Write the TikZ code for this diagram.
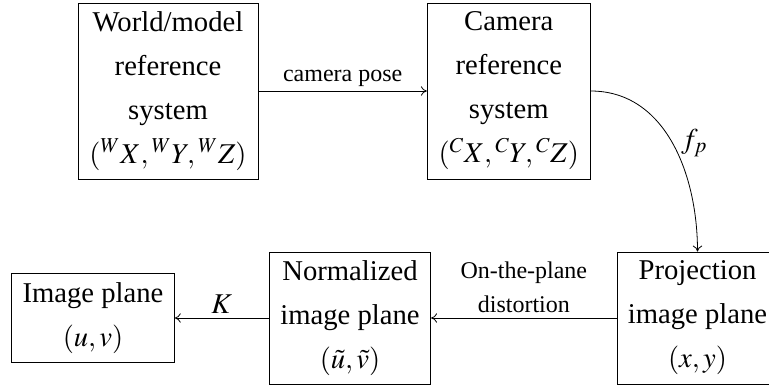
\documentclass[tikz,border=0pt]{standalone}
\usepackage{mathptmx}
\usepackage[no-math]{fontspec}
\setmainfont{Liberation Serif}
\usetikzlibrary{arrows.meta}
\begin{document}
\begin{tikzpicture}[x=0.75pt,y=-0.75pt,
  box/.style={draw, line width=0.6pt, inner sep=0pt, align=center,
    font=\fontsize{21.5}{33}\selectfont},
  lbl/.style={font=\fontsize{18}{25.5}\selectfont},
  mlbl/.style={font=\fontsize{21.5}{33}\selectfont},
  arr/.style={line width=0.6pt, -{To[length=4.5pt,width=7pt]}}]
\useasboundingbox (0,0) rectangle (769,387);
\node[box, minimum width=135pt, minimum height=132pt] (world) at (168,91)
  {World/model\\reference\\system\\$({}^{W}X,{}^{W}Y,{}^{W}Z)$};
\node[box, minimum width=122.25pt, minimum height=132pt] (camera) at (508.8,91)
  {Camera\\reference\\system\\$({}^{C}X,{}^{C}Y,{}^{C}Z)$};
\node[box, minimum width=120.75pt, minimum height=99pt] (proj) at (697.5,318)
  {Projection\\image plane\\$(x,y)$};
\node[box, minimum width=121pt, minimum height=99pt] (norm) at (350,318)
  {Normalized\\image plane\\$(\tilde{u},\tilde{v})$};
\node[box, minimum width=122pt, minimum height=66.3pt] (img) at (93,318)
  {Image plane\\$(u,v)$};
\draw[arr] (world) -- node[above, lbl] {camera pose} (camera);
\draw[arr] (camera.east) to[out=0,in=90] node[right, mlbl, pos=0.5, xshift=3pt] {$f_p$} (proj.north);
\draw[arr] (proj) -- node[above, lbl, align=center] {On-the-plane\\distortion} (norm);
\draw[arr] (norm) -- node[above, mlbl] {$K$} (img);
\end{tikzpicture}
\end{document}
